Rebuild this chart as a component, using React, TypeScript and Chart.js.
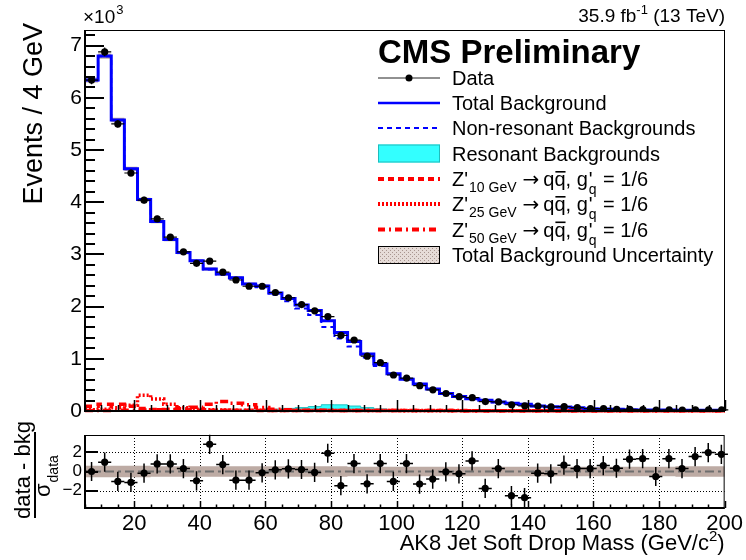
import React, { useEffect, useRef } from "react";
import { Chart, registerables } from "chart.js";

Chart.register(...registerables);

const FONT = '"Liberation Sans", Arial, Helvetica, sans-serif';

// ---------------- data ----------------
const binCenters = [
  7, 11, 15, 19, 23, 27, 31, 35, 39, 43,
  47, 51, 55, 59, 63, 67, 71, 75, 79, 83,
  87, 91, 95, 99, 103, 107, 111, 115, 119, 123,
  127, 131, 135, 139, 143, 147, 151, 155, 159, 163,
  167, 171, 175, 179, 183, 187, 191, 195, 199,
];

const dataCounts = [
  6340, 6880, 5500, 4560, 4040, 3680, 3330, 3050, 2830, 2870,
  2660, 2510, 2390, 2390, 2270, 2170, 2040, 1920, 1810, 1450,
  1360, 1050, 925, 690, 630, 485, 405, 335, 275, 255,
  180, 175, 120, 100, 96, 78, 82, 63, 46, 44,
  34, 32, 28, 18, 24, 17, 20, 22, 20,
];

const totalBkg = [
  6340, 6800, 5575, 4640, 4050, 3630, 3285, 3035, 2880, 2720,
  2625, 2555, 2435, 2395, 2260, 2155, 2030, 1925, 1730, 1505,
  1330, 1090, 900, 715, 610, 515, 420, 335, 280, 237,
  204, 171, 148, 127, 98, 80, 76, 61, 44, 40,
  32, 25, 21, 20, 17, 16, 13, 13, 12,
];

const resonantBkg = [
  5, 5, 5, 5, 5, 5, 6, 7, 8, 10,
  12, 15, 20, 25, 35, 50, 65, 85, 120, 118,
  95, 65, 40, 25, 15, 10, 8, 7, 6, 5,
  5, 5, 5, 5, 5, 5, 5, 5, 5, 5,
  5, 5, 5, 5, 5, 5, 5, 5, 5,
];

const nonResBkg = [
  6335, 6795, 5570, 4635, 4045, 3625, 3279, 3028, 2872, 2710,
  2613, 2540, 2415, 2370, 2225, 2105, 1965, 1840, 1610, 1387,
  1235, 1025, 860, 690, 595, 505, 412, 328, 274, 232,
  199, 166, 143, 122, 93, 75, 71, 56, 39, 35,
  27, 20, 16, 15, 12, 11, 8, 8, 7,
];

const sigZ10 = [
  90, 130, 130, 90, 50, 30, 22, 18, 15, 14,
  13, 12, 12, 11, 11, 10, 10, 10, 10, 9,
  9, 9, 9, 8, 8, 8, 8, 8, 7, 7,
  7, 7, 7, 7, 6, 6, 6, 6, 6, 6,
  6, 5, 5, 5, 5, 5, 5, 5, 5,
];

const sigZ25 = [
  25, 35, 60, 110, 300, 230, 130, 60, 35, 25,
  20, 16, 14, 12, 11, 10, 10, 9, 9, 9,
  8, 8, 8, 8, 7, 7, 7, 7, 7, 6,
  6, 6, 6, 6, 6, 6, 5, 5, 5, 5,
  5, 5, 5, 5, 5, 4, 4, 4, 4,
];

const sigZ50 = [
  10, 10, 12, 14, 18, 25, 35, 45, 70, 130,
  180, 150, 120, 65, 35, 22, 16, 13, 12, 11,
  10, 10, 9, 9, 9, 8, 8, 8, 8, 7,
  7, 7, 7, 7, 6, 6, 6, 6, 6, 6,
  5, 5, 5, 5, 5, 5, 5, 5, 5,
];

const pulls = [
  0.0, 0.97, -1.03, -1.14, -0.17, 0.79, 0.79, 0.31, -0.97, 2.83,
  0.72, -0.9, -0.9, -0.14, 0.17, 0.28, 0.21, -0.1, 1.9, -1.48,
  0.83, -1.28, 0.83, -1.03, 0.83, -1.31, -0.79, -0.03, -0.24, 1.1,
  -1.76, 0.31, -2.52, -2.72, -0.17, -0.24, 0.66, 0.31, 0.31, 0.62,
  0.34, 1.28, 1.34, -0.52, 1.34, 0.31, 1.55, 1.97, 1.79,
];

// half width of the background uncertainty band, in units of sigma_data
const bandHalf = [
  0.6, 0.6, 0.6, 0.6, 0.6, 0.55, 0.55, 0.55, 0.55, 0.55,
  0.55, 0.55, 0.55, 0.55, 0.55, 0.55, 0.55, 0.55, 0.55, 0.55,
  0.5, 0.5, 0.5, 0.5, 0.5, 0.5, 0.5, 0.5, 0.5, 0.5,
  0.5, 0.5, 0.5, 0.5, 0.5, 0.5, 0.5, 0.5, 0.5, 0.5,
  0.5, 0.5, 0.5, 0.5, 0.5, 0.55, 0.55, 0.55, 0.55,
];

const xTicks = [20, 40, 60, 80, 100, 120, 140, 160, 180, 200];
const xGridRatio = [20, 40, 60, 80, 100, 120, 140, 160, 180];
const yTicksMain = [0, 1000, 2000, 3000, 4000, 5000, 6000, 7000];
const yTicksRatio = [-2, 0, 2];

const X_MIN = 5;
const X_MAX = 200;
const BIN_HALF = 2;
const Y_MAX = 7300;
const R_MIN = -3.8;
const R_MAX = 3.8;

const BLUE = "#0000ff";
const RED = "#ff0000";
const CYAN = "#33ffff";
const BAND = "#bdaba4";

// ---------------- helpers ----------------
function stepData(vals: number[]) {
  const pts = vals.map((v, i) => ({ x: binCenters[i] - BIN_HALF, y: v }));
  pts.push({ x: binCenters[binCenters.length - 1] + BIN_HALF, y: vals[vals.length - 1] });
  return pts;
}

function stepLine(label: string, vals: number[], color: string, width: number, dash: number[], order: number, extra: any = {}) {
  return {
    type: "line",
    label,
    data: stepData(vals),
    stepped: "before",
    borderColor: color,
    borderWidth: width,
    borderDash: dash,
    pointRadius: 0,
    fill: false,
    order,
    clip: { left: 0, right: 0, top: 0, bottom: 4 },
    ...extra,
  };
}

function makePattern(ctx: CanvasRenderingContext2D) {
  const c = document.createElement("canvas");
  c.width = 4;
  c.height = 4;
  const p = c.getContext("2d")!;
  p.fillStyle = "#e6dcd8";
  p.fillRect(0, 0, 4, 4);
  p.fillStyle = "#a8958f";
  p.fillRect(0, 0, 1, 1);
  p.fillRect(2, 2, 1, 1);
  return ctx.createPattern(c, "repeat");
}

function drawZLabel(ctx: CanvasRenderingContext2D, x0: number, base: number, mass: string) {
  const big = `20px ${FONT}`;
  const small = `14px ${FONT}`;
  let x = x0;
  ctx.font = big;
  ctx.fillText("Z'", x, base);
  x += ctx.measureText("Z'").width + 1;
  ctx.font = small;
  const sub = `${mass} GeV`;
  ctx.fillText(sub, x, base + 6);
  x += ctx.measureText(sub).width + 6;
  ctx.font = `20px "DejaVu Sans", ${FONT}`;
  ctx.fillText("\u2192", x, base);
  x += ctx.measureText("\u2192").width + 4;
  ctx.font = big;
  ctx.fillText("q", x, base);
  x += ctx.measureText("q").width;
  const qw = ctx.measureText("q").width;
  ctx.fillText("q", x, base);
  ctx.fillRect(x + 1, base - 15, qw - 1, 1.6);
  x += qw;
  ctx.fillText(", g", x, base);
  x += ctx.measureText(", g").width;
  ctx.fillText("'", x + 1, base);
  ctx.font = small;
  ctx.fillText("q", x + 1, base + 8);
  x += ctx.measureText("q").width + 2;
  ctx.font = big;
  ctx.fillText(" = 1/6", x, base);
}

// ---------------- plugins ----------------
const DATA_INDEX = 8;

const mainDecor = {
  id: "mainDecor",
  beforeDatasetDraw(chart: any, args: any) {
    if (args.index !== DATA_INDEX) return;
    const { ctx } = chart;
    const xs = chart.scales.x;
    const ys = chart.scales.y;
    ctx.save();
    ctx.strokeStyle = "#000";
    ctx.lineWidth = 1.2;
    ctx.beginPath();
    binCenters.forEach((c, i) => {
      const d = dataCounts[i];
      const e = Math.sqrt(d);
      const y = ys.getPixelForValue(d);
      ctx.moveTo(xs.getPixelForValue(c - BIN_HALF), y);
      ctx.lineTo(xs.getPixelForValue(c + BIN_HALF), y);
      const px = xs.getPixelForValue(c);
      ctx.moveTo(px, ys.getPixelForValue(d - e));
      ctx.lineTo(px, ys.getPixelForValue(d + e));
    });
    ctx.stroke();
    ctx.restore();
  },
  afterDraw(chart: any) {
    const { ctx, chartArea: ca } = chart;
    const xs = chart.scales.x;
    const ys = chart.scales.y;
    ctx.save();
    // frame
    ctx.strokeStyle = "#000";
    ctx.lineWidth = 1;
    ctx.strokeRect(ca.left + 0.5, ca.top + 0.5, ca.right - ca.left - 1, ca.bottom - ca.top);
    ctx.lineWidth = 2;
    ctx.beginPath();
    ctx.moveTo(ca.left, ca.top);
    ctx.lineTo(ca.left, ca.bottom + 1);
    ctx.moveTo(ca.left, ca.bottom);
    ctx.lineTo(ca.right, ca.bottom);
    ctx.stroke();
    // y ticks (inside)
    ctx.lineWidth = 2;
    ctx.beginPath();
    for (let v = 0; v <= Y_MAX; v += 200) {
      const y = Math.round(ys.getPixelForValue(v));
      const len = v % 1000 === 0 ? 19 : 10;
      ctx.moveTo(ca.left, y);
      ctx.lineTo(ca.left + len, y);
    }
    ctx.stroke();
    // x ticks (inside)
    ctx.lineWidth = 1.5;
    ctx.beginPath();
    for (let v = X_MIN; v <= X_MAX; v += 5) {
      const x = Math.round(xs.getPixelForValue(v)) + 0.5;
      const len = v % 20 === 0 ? 11 : 6;
      ctx.moveTo(x, ca.bottom);
      ctx.lineTo(x, ca.bottom - len);
    }
    ctx.stroke();

    ctx.fillStyle = "#000";
    ctx.textBaseline = "alphabetic";
    // ×10^3
    ctx.textAlign = "left";
    ctx.font = `19px ${FONT}`;
    ctx.fillText("\u00d710", 83, 23);
    const w10 = ctx.measureText("\u00d710").width;
    ctx.font = `13px ${FONT}`;
    ctx.fillText("3", 83 + w10 + 1, 14);

    // lumi text, right aligned
    const partA = "35.9 fb";
    const partB = "-1";
    const partC = " (13 TeV)";
    ctx.font = `19px ${FONT}`;
    const wa = ctx.measureText(partA).width;
    const wc = ctx.measureText(partC).width;
    ctx.font = `13px ${FONT}`;
    const wb = ctx.measureText(partB).width;
    let lx = ca.right - (wa + wb + wc);
    ctx.font = `19px ${FONT}`;
    ctx.fillText(partA, lx, 22);
    ctx.font = `13px ${FONT}`;
    ctx.fillText(partB, lx + wa, 14);
    ctx.font = `19px ${FONT}`;
    ctx.fillText(partC, lx + wa + wb, 22);

    // y title
    ctx.save();
    ctx.translate(42, 23);
    ctx.rotate(-Math.PI / 2);
    ctx.textAlign = "right";
    ctx.font = `27px ${FONT}`;
    ctx.fillText("Events / 4 GeV", 0, 0);
    ctx.restore();

    // CMS Preliminary
    ctx.font = `bold 33px ${FONT}`;
    ctx.fillText("CMS Preliminary", 378, 63);

    // legend
    const X0 = 378;
    const X1 = 440;
    const TX = 452;
    const rows = [78, 103, 128, 153.5, 179, 204, 229.5, 255];
    ctx.font = `20px ${FONT}`;
    // Data
    ctx.strokeStyle = "#222";
    ctx.lineWidth = 1;
    ctx.setLineDash([]);
    ctx.beginPath();
    ctx.moveTo(X0, rows[0]);
    ctx.lineTo(X1, rows[0]);
    ctx.stroke();
    ctx.beginPath();
    ctx.arc((X0 + X1) / 2, rows[0], 3.5, 0, Math.PI * 2);
    ctx.fill();
    ctx.fillText("Data", TX, rows[0] + 7);
    // Total
    ctx.strokeStyle = BLUE;
    ctx.lineWidth = 2.5;
    ctx.beginPath();
    ctx.moveTo(X0, rows[1]);
    ctx.lineTo(X1, rows[1]);
    ctx.stroke();
    ctx.fillText("Total Background", TX, rows[1] + 7);
    // Non-res
    ctx.lineWidth = 2;
    ctx.setLineDash([5, 4]);
    ctx.beginPath();
    ctx.moveTo(X0, rows[2]);
    ctx.lineTo(X1, rows[2]);
    ctx.stroke();
    ctx.setLineDash([]);
    ctx.fillText("Non-resonant Backgrounds", TX, rows[2] + 7);
    // Resonant
    ctx.fillStyle = CYAN;
    ctx.fillRect(X0, rows[3] - 9, X1 - X0, 18);
    ctx.strokeStyle = "#1fbcbc";
    ctx.lineWidth = 1;
    ctx.strokeRect(X0 + 0.5, rows[3] - 8.5, X1 - X0 - 1, 17);
    ctx.fillStyle = "#000";
    ctx.fillText("Resonant Backgrounds", TX, rows[3] + 7);
    // signals
    const sigDash = [[6, 4], [2, 2], [7, 4, 2, 4]];
    const masses = ["10", "25", "50"];
    for (let k = 0; k < 3; k++) {
      const y = rows[4 + k];
      ctx.strokeStyle = RED;
      ctx.lineWidth = 4;
      ctx.setLineDash(sigDash[k]);
      ctx.beginPath();
      ctx.moveTo(X0, y);
      ctx.lineTo(X1, y);
      ctx.stroke();
      ctx.setLineDash([]);
      ctx.fillStyle = "#000";
      drawZLabel(ctx, TX, y + 7, masses[k]);
    }
    // uncertainty
    const pat = makePattern(ctx);
    ctx.fillStyle = pat || BAND;
    ctx.fillRect(X0, rows[7] - 8.5, X1 - X0, 17);
    ctx.strokeStyle = "#000";
    ctx.lineWidth = 1;
    ctx.strokeRect(X0 + 0.5, rows[7] - 8.5, X1 - X0 - 1, 17);
    ctx.fillStyle = "#000";
    ctx.font = `20px ${FONT}`;
    ctx.fillText("Total Background Uncertainty", TX, rows[7] + 7);
    ctx.restore();
  },
};

const POINTS_INDEX = 2;

const ratioDecor = {
  id: "ratioDecor",
  beforeDatasetsDraw(chart: any) {
    const { ctx, chartArea: ca } = chart;
    const xs = chart.scales.x;
    const ys = chart.scales.y;
    ctx.save();
    ctx.strokeStyle = "#000";
    ctx.lineWidth = 1;
    ctx.setLineDash([1, 2]);
    ctx.beginPath();
    xGridRatio.forEach((v) => {
      const x = Math.round(xs.getPixelForValue(v)) + 0.5;
      ctx.moveTo(x, ca.top);
      ctx.lineTo(x, ca.bottom);
    });
    [-2, 2].forEach((v) => {
      const y = Math.round(ys.getPixelForValue(v)) + 0.5;
      ctx.moveTo(ca.left, y);
      ctx.lineTo(ca.right, y);
    });
    ctx.stroke();
    ctx.restore();
  },
  beforeDatasetDraw(chart: any, args: any) {
    if (args.index !== POINTS_INDEX) return;
    const { ctx, chartArea: ca } = chart;
    const xs = chart.scales.x;
    const ys = chart.scales.y;
    ctx.save();
    // zero line (dash-dot)
    ctx.strokeStyle = "#6e6e6e";
    ctx.lineWidth = 2;
    ctx.setLineDash([9, 4, 3, 4]);
    ctx.beginPath();
    const y0 = ys.getPixelForValue(0);
    ctx.moveTo(ca.left, y0);
    ctx.lineTo(ca.right, y0);
    ctx.stroke();
    ctx.setLineDash([]);
    // error bars
    ctx.strokeStyle = "#000";
    ctx.lineWidth = 1.5;
    ctx.beginPath();
    binCenters.forEach((c, i) => {
      const p = pulls[i];
      const y = ys.getPixelForValue(p);
      ctx.moveTo(xs.getPixelForValue(c - BIN_HALF), y);
      ctx.lineTo(xs.getPixelForValue(c + BIN_HALF), y);
      const px = xs.getPixelForValue(c);
      ctx.moveTo(px, ys.getPixelForValue(p - 1));
      ctx.lineTo(px, ys.getPixelForValue(p + 1));
    });
    ctx.stroke();
    ctx.restore();
  },
  afterDraw(chart: any) {
    const { ctx, chartArea: ca } = chart;
    const xs = chart.scales.x;
    const ys = chart.scales.y;
    ctx.save();
    ctx.strokeStyle = "#000";
    ctx.lineWidth = 1;
    ctx.strokeRect(ca.left + 0.5, ca.top + 0.5, ca.right - ca.left - 1, ca.bottom - ca.top);
    ctx.lineWidth = 2;
    ctx.beginPath();
    ctx.moveTo(ca.left, ca.top);
    ctx.lineTo(ca.left, ca.bottom + 1);
    ctx.moveTo(ca.left, ca.bottom);
    ctx.lineTo(ca.right, ca.bottom);
    ctx.stroke();
    // y ticks
    ctx.beginPath();
    yTicksRatio.forEach((v) => {
      const y = Math.round(ys.getPixelForValue(v));
      ctx.moveTo(ca.left, y);
      ctx.lineTo(ca.left + 13, y);
    });
    ctx.stroke();
    // x ticks
    ctx.lineWidth = 1.5;
    ctx.beginPath();
    for (let v = X_MIN; v <= X_MAX; v += 5) {
      const x = Math.round(xs.getPixelForValue(v)) + 0.5;
      const len = v % 20 === 0 ? 7 : 3.5;
      ctx.moveTo(x, ca.bottom);
      ctx.lineTo(x, ca.bottom - len);
    }
    ctx.stroke();

    ctx.fillStyle = "#000";
    ctx.textBaseline = "alphabetic";
    // x title, right aligned at frame edge
    const main = "AK8 Jet Soft Drop Mass (GeV/c";
    ctx.font = `22px ${FONT}`;
    const wm = ctx.measureText(main).width;
    const wp = ctx.measureText(")").width;
    ctx.font = `15px ${FONT}`;
    const w2 = ctx.measureText("2").width;
    const tx = ca.right - (wm + w2 + wp);
    ctx.font = `22px ${FONT}`;
    ctx.fillText(main, tx, 550);
    ctx.font = `15px ${FONT}`;
    ctx.fillText("2", tx + wm, 541);
    ctx.font = `22px ${FONT}`;
    ctx.fillText(")", tx + wm + w2, 550);

    // y title: (data - bkg) / sigma_data
    ctx.save();
    ctx.translate(30, 470);
    ctx.rotate(-Math.PI / 2);
    ctx.textAlign = "center";
    ctx.font = `22px ${FONT}`;
    ctx.fillText("data - bkg", 0, 0);
    ctx.restore();
    ctx.fillRect(34, 432, 2, 86);
    ctx.save();
    ctx.translate(50, 497);
    ctx.rotate(-Math.PI / 2);
    ctx.textAlign = "left";
    ctx.font = `22px ${FONT}`;
    ctx.fillText("\u03c3", 0, 0);
    const ws = ctx.measureText("\u03c3").width;
    ctx.font = `14px ${FONT}`;
    ctx.fillText("data", ws + 1, 8);
    ctx.restore();
    ctx.restore();
  },
};

// ---------------- configs ----------------
function mainConfig(): any {
  const bandUp = totalBkg.map((b, i) => b + bandHalf[i] * Math.sqrt(dataCounts[i]));
  const bandLo = totalBkg.map((b, i) => b - bandHalf[i] * Math.sqrt(dataCounts[i]));
  return {
    type: "scatter",
    data: {
      datasets: [
        stepLine("Uncertainty up", bandUp, "rgba(0,0,0,0)", 0, [], 6, { fill: "+1", backgroundColor: BAND }),
        stepLine("Uncertainty down", bandLo, "rgba(0,0,0,0)", 0, [], 6),
        stepLine("Resonant Backgrounds", resonantBkg, "#22c2c2", 1, [], 5, { fill: "origin", backgroundColor: CYAN }),
        stepLine("Z' 10 GeV", sigZ10, RED, 3.5, [7, 5], 4),
        stepLine("Z' 25 GeV", sigZ25, RED, 3.5, [2, 2], 4),
        stepLine("Z' 50 GeV", sigZ50, RED, 3.5, [8, 4, 2, 4], 4),
        stepLine("Non-resonant Backgrounds", nonResBkg, BLUE, 2, [5, 4], 3),
        stepLine("Total Background", totalBkg, BLUE, 3, [], 2),
        {
          type: "scatter",
          label: "Data",
          data: binCenters.map((c, i) => ({ x: c, y: dataCounts[i] })),
          pointRadius: 3.6,
          pointBackgroundColor: "#000",
          pointBorderWidth: 0,
          order: 0,
        },
      ],
    },
    options: {
      animation: false,
      responsive: false,
      events: [],
      layout: { padding: { left: 0, right: 21, top: 30, bottom: 149 } },
      plugins: { legend: { display: false }, tooltip: { enabled: false } },
      scales: {
        x: { type: "linear", min: X_MIN, max: X_MAX, display: false },
        y: {
          type: "linear",
          min: 0,
          max: Y_MAX,
          afterFit: (s: any) => {
            s.width = 85;
          },
          afterBuildTicks: (s: any) => {
            s.ticks = yTicksMain.map((v) => ({ value: v }));
          },
          ticks: {
            font: { family: FONT, size: 21 },
            color: "#000",
            padding: 3,
            callback: (v: any) => String(v / 1000),
          },
          grid: { display: false, drawTicks: false },
          border: { display: false },
        },
      },
    },
    plugins: [mainDecor],
  };
}

function ratioConfig(): any {
  return {
    type: "scatter",
    data: {
      datasets: [
        stepLine("band up", bandHalf, "rgba(0,0,0,0)", 0, [], 3, { fill: "+1", backgroundColor: BAND }),
        stepLine("band down", bandHalf.map((v) => -v), "rgba(0,0,0,0)", 0, [], 3),
        {
          type: "scatter",
          label: "pull",
          data: binCenters.map((c, i) => ({ x: c, y: pulls[i] })),
          pointRadius: 3.6,
          pointBackgroundColor: "#000",
          pointBorderWidth: 0,
          order: 0,
        },
      ],
    },
    options: {
      animation: false,
      responsive: false,
      events: [],
      layout: { padding: { left: 0, right: 21, top: 435, bottom: 12 } },
      plugins: { legend: { display: false }, tooltip: { enabled: false } },
      scales: {
        x: {
          type: "linear",
          min: X_MIN,
          max: X_MAX,
          afterFit: (s: any) => {
            s.height = 40;
          },
          afterBuildTicks: (s: any) => {
            s.ticks = xTicks.map((v) => ({ value: v }));
          },
          ticks: {
            font: { family: FONT, size: 22 },
            color: "#000",
            padding: 3,
            maxRotation: 0,
            autoSkip: false,
            callback: (v: any) => String(v),
          },
          grid: { display: false, drawTicks: false },
          border: { display: false },
        },
        y: {
          type: "linear",
          min: R_MIN,
          max: R_MAX,
          afterFit: (s: any) => {
            s.width = 85;
          },
          afterBuildTicks: (s: any) => {
            s.ticks = yTicksRatio.map((v) => ({ value: v }));
          },
          ticks: {
            font: { family: FONT, size: 17 },
            color: "#000",
            padding: 3,
            callback: (v: any) => (v < 0 ? "\u2212" + Math.abs(v) : String(v)),
          },
          grid: { display: false, drawTicks: false },
          border: { display: false },
        },
      },
    },
    plugins: [ratioDecor],
  };
}

export default function App() {
  const mainRef = useRef<HTMLCanvasElement>(null);
  const ratioRef = useRef<HTMLCanvasElement>(null);
  useEffect(() => {
    const main = new Chart(mainRef.current as HTMLCanvasElement, mainConfig());
    const ratio = new Chart(ratioRef.current as HTMLCanvasElement, ratioConfig());
    return () => {
      main.destroy();
      ratio.destroy();
    };
  }, []);
  return (
    <div style={{ position: "fixed", left: 0, top: 0, width: 746, height: 560, background: "#fff" }}>
      <canvas ref={mainRef} width={746} height={560} style={{ position: "absolute", left: 0, top: 0 }} />
      <canvas ref={ratioRef} width={746} height={560} style={{ position: "absolute", left: 0, top: 0 }} />
    </div>
  );
}
